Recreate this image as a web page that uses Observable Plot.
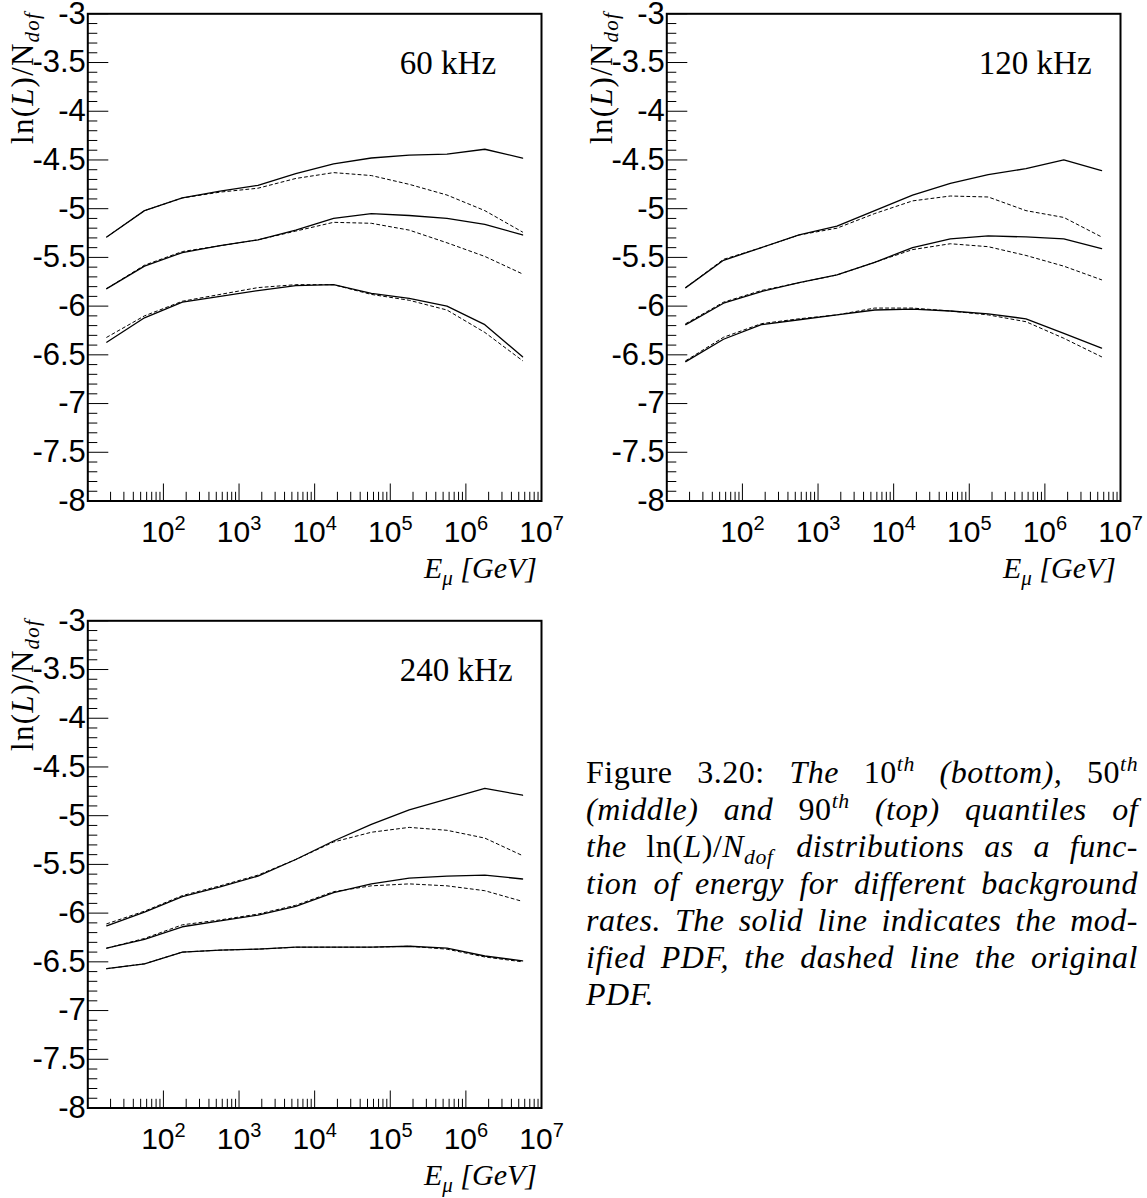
<!DOCTYPE html>
<html>
<head>
<meta charset="utf-8">
<script src="https://cdn.jsdelivr.net/npm/d3@7"></script>
<script src="https://cdn.jsdelivr.net/npm/@observablehq/plot@0.6"></script>
<style>
  html, body { margin: 0; padding: 0; background: #fff; overflow: hidden; }
  #root { position: relative; width: 1147px; height: 1198px; background: #fff; }
  #caption { position: absolute; left: 586px; top: 754px; width: 552px;
    font-family: "Liberation Serif", serif; font-size: 32px; line-height: 37px; color: #000; letter-spacing: 0.5px; }
  #caption .ln { white-space: nowrap; text-align: justify; text-align-last: justify; }
  #caption .last { text-align: left; text-align-last: left; }
  #caption sup { font-size: 0.68em; position: relative; top: -0.55em; vertical-align: baseline; line-height: 0; }
  #caption sub { font-size: 0.68em; position: relative; top: 0.3em; vertical-align: baseline; line-height: 0; padding-right: 3px; }
</style>
</head>
<body>
<div id="root">
  <div id="caption">
    <div class="ln">Figure 3.20: <i>The</i> 10<sup><i>th</i></sup> <i>(bottom),</i> 50<sup><i>th</i></sup></div>
    <div class="ln"><i>(middle) and</i> 90<sup><i>th</i></sup> <i>(top) quantiles of</i></div>
    <div class="ln"><i>the</i> ln(<i>L</i>)/<i>N<sub>dof</sub></i> <i>distributions as a func-</i></div>
    <div class="ln"><i>tion of energy for different background</i></div>
    <div class="ln"><i>rates. The solid line indicates the mod-</i></div>
    <div class="ln"><i>ified PDF, the dashed line the original</i></div>
    <div class="ln last"><i>PDF.</i></div>
  </div>
</div>
<script>
// ---------- data ----------
const E = [17.8, 56.2, 178, 562, 1780, 5620, 17800, 56200, 178000, 562000, 1780000, 5620000];
const rates = ["60 kHz", "120 kHz", "240 kHz"];

// 60 kHz
const r60_q90_mod  = [-5.29, -5.02, -4.89, -4.82, -4.76, -4.64, -4.54, -4.48, -4.45, -4.44, -4.39, -4.48];
const r60_q90_orig = [-5.29, -5.02, -4.89, -4.83, -4.79, -4.69, -4.63, -4.66, -4.75, -4.86, -5.02, -5.24];
const r60_q50_mod  = [-5.82, -5.59, -5.45, -5.38, -5.32, -5.22, -5.10, -5.05, -5.07, -5.10, -5.16, -5.27];
const r60_q50_orig = [-5.82, -5.58, -5.44, -5.38, -5.32, -5.23, -5.14, -5.15, -5.22, -5.35, -5.49, -5.67];
const r60_q10_mod  = [-6.37, -6.12, -5.96, -5.90, -5.84, -5.79, -5.78, -5.87, -5.92, -6.00, -6.19, -6.52];
const r60_q10_orig = [-6.32, -6.10, -5.95, -5.88, -5.81, -5.78, -5.78, -5.88, -5.94, -6.04, -6.27, -6.56];
// 120 kHz
const r120_q90_mod  = [-5.81, -5.53, -5.40, -5.27, -5.18, -5.02, -4.86, -4.74, -4.65, -4.59, -4.50, -4.61];
const r120_q90_orig = [-5.81, -5.52, -5.40, -5.27, -5.20, -5.05, -4.92, -4.87, -4.88, -5.02, -5.09, -5.29];
const r120_q50_mod  = [-6.19, -5.97, -5.85, -5.76, -5.68, -5.55, -5.40, -5.31, -5.28, -5.29, -5.31, -5.41];
const r120_q50_orig = [-6.18, -5.96, -5.84, -5.76, -5.68, -5.55, -5.42, -5.36, -5.39, -5.48, -5.59, -5.73];
const r120_q10_mod  = [-6.57, -6.34, -6.19, -6.14, -6.09, -6.04, -6.03, -6.05, -6.08, -6.13, -6.28, -6.43];
const r120_q10_orig = [-6.56, -6.32, -6.18, -6.13, -6.09, -6.02, -6.02, -6.05, -6.09, -6.16, -6.33, -6.52];
// 240 kHz
const r240_q90_mod  = [-6.13, -5.99, -5.83, -5.73, -5.62, -5.45, -5.26, -5.09, -4.94, -4.83, -4.72, -4.79];
const r240_q90_orig = [-6.11, -5.98, -5.82, -5.72, -5.61, -5.45, -5.27, -5.17, -5.12, -5.15, -5.23, -5.41];
const r240_q50_mod  = [-6.36, -6.27, -6.14, -6.08, -6.02, -5.93, -5.79, -5.70, -5.64, -5.62, -5.61, -5.65];
const r240_q50_orig = [-6.36, -6.26, -6.12, -6.07, -6.01, -5.92, -5.78, -5.72, -5.70, -5.72, -5.77, -5.88];
const r240_q10_mod  = [-6.57, -6.52, -6.40, -6.38, -6.37, -6.35, -6.35, -6.35, -6.34, -6.36, -6.44, -6.49];
const r240_q10_orig = [-6.57, -6.52, -6.40, -6.38, -6.37, -6.35, -6.35, -6.35, -6.34, -6.37, -6.45, -6.50];

// tick labels
const xTickLabels = [1e2, 1e3, 1e4, 1e5, 1e6, 1e7];
const yTickLabels = [-8, -7.5, -7, -6.5, -6, -5.5, -5, -4.5, -4, -3.5, -3];

// ---------- helpers ----------
const xMajor = [1e2, 1e3, 1e4, 1e5, 1e6];
const xMinor = [];
for (let k = 1; k <= 6; k++) for (let m = 2; m <= 9; m++) xMinor.push(m * Math.pow(10, k));
const yMinor = [];
for (let i = 1; i < 50; i++) if (i % 5 !== 0) yMinor.push(-8 + i / 10);

const FW = 453.7, FH = 487.2, ML = 87.3, MT = 13.3, W = 567, H = 600;

function makePanel(label, series) {
  const rows = [];
  series.forEach((s, si) => {
    s.mod.forEach((v, i) => rows.push({E: E[i], v, key: "m" + si, kind: "mod"}));
    s.orig.forEach((v, i) => rows.push({E: E[i], v, key: "o" + si, kind: "orig"}));
  });
  const svg = Plot.plot({
    width: W, height: H,
    marginLeft: ML, marginTop: MT, marginRight: W - ML - FW, marginBottom: H - MT - FH,
    x: {type: "log", domain: [10, 1e7]},
    y: {domain: [-8, -3]},
    style: {fontFamily: "Liberation Sans, Arial, sans-serif", fontSize: "30px", color: "#000", background: "transparent", overflow: "visible"},
    marks: [
      Plot.tickX(xMinor, {x: d => d, insetTop: FH - 8.7, stroke: "#000", strokeWidth: 1}),
      Plot.tickX(xMajor, {x: d => d, insetTop: FH - 17, stroke: "#000", strokeWidth: 1}),
      Plot.tickY(yMinor, {y: d => d, insetRight: FW - 10, stroke: "#000", strokeWidth: 1}),
      Plot.tickY(yTickLabels, {y: d => d, insetRight: FW - 21, stroke: "#000", strokeWidth: 1}),
      Plot.line(rows.filter(d => d.kind === "orig"), {x: "E", y: "v", z: "key", stroke: "#000", strokeWidth: 1, strokeDasharray: "3,3"}),
      Plot.line(rows.filter(d => d.kind === "mod"), {x: "E", y: "v", z: "key", stroke: "#000", strokeWidth: 1.3}),
      Plot.frame({stroke: "#000", strokeWidth: 2}),
      Plot.axisX({ticks: xTickLabels, tickFormat: d => "10^" + Math.round(Math.log10(d)), tickSize: 0, tickPadding: 20, label: null}),
      Plot.axisY({ticks: yTickLabels, tickFormat: d => String(d), tickSize: 0, tickPadding: 2, label: null}),
      Plot.text([label], {frameAnchor: "top-left", dx: 312, dy: 60, textAnchor: "start", lineAnchor: "bottom", fontFamily: "Liberation Serif, serif", fontSize: 33, fill: "#000"})
    ]
  });
  // tick label sizes
  d3.select(svg).selectAll('g[aria-label="y-axis tick label"]').attr("font-size", 31).style("font-size", "31px");
  d3.select(svg).selectAll('g[aria-label="x-axis tick label"]').attr("font-size", 30).style("font-size", "30px");
  // superscripts on x tick labels
  d3.select(svg).selectAll('g[aria-label="x-axis tick label"] text').each(function () {
    const parts = this.textContent.split("^");
    if (parts.length !== 2) return;
    const t = d3.select(this);
    t.text(null);
    t.append("tspan").text(parts[0]);
    t.append("tspan").attr("dy", -12).style("font-size", "20px").text(parts[1]);
  });
  // y title: ln(L)/N_dof
  const yt = d3.select(svg).append("text")
    .attr("transform", `translate(${ML - 54},12) rotate(-90)`)
    .attr("text-anchor", "end")
    .style("font-family", "Liberation Serif, serif").style("font-size", "31px").style("letter-spacing", "1.2px")
    .attr("fill", "#000");
  yt.append("tspan").text("ln(");
  yt.append("tspan").style("font-style", "italic").text("L");
  yt.append("tspan").text(")/N");
  yt.append("tspan").attr("dy", 6).style("font-style", "italic").style("font-size", "21px").text("dof");
  // x title: E_mu [GeV]
  const xt = d3.select(svg).append("text")
    .attr("x", ML + FW - 4).attr("y", 578)
    .attr("text-anchor", "end")
    .style("font-family", "Liberation Serif, serif").style("font-size", "30px").style("font-style", "italic")
    .attr("fill", "#000");
  xt.append("tspan").text("E");
  xt.append("tspan").attr("dy", 7).style("font-size", "21px").text("μ");
  xt.append("tspan").attr("dy", -7).text(" [GeV]");
  return svg;
}

const root = document.getElementById("root");
const panels = [
  {label: rates[0], left: 0, top: 0, series: [
    {mod: r60_q90_mod, orig: r60_q90_orig}, {mod: r60_q50_mod, orig: r60_q50_orig}, {mod: r60_q10_mod, orig: r60_q10_orig}]},
  {label: rates[1], left: 579.2, top: 0, series: [
    {mod: r120_q90_mod, orig: r120_q90_orig}, {mod: r120_q50_mod, orig: r120_q50_orig}, {mod: r120_q10_mod, orig: r120_q10_orig}]},
  {label: rates[2], left: 0, top: 606.7, series: [
    {mod: r240_q90_mod, orig: r240_q90_orig}, {mod: r240_q50_mod, orig: r240_q50_orig}, {mod: r240_q10_mod, orig: r240_q10_orig}]}
];
for (const p of panels) {
  const svg = makePanel(p.label, p.series);
  svg.style.position = "absolute";
  svg.style.left = p.left + "px";
  svg.style.top = p.top + "px";
  root.appendChild(svg);
}
</script>
</body>
</html>
